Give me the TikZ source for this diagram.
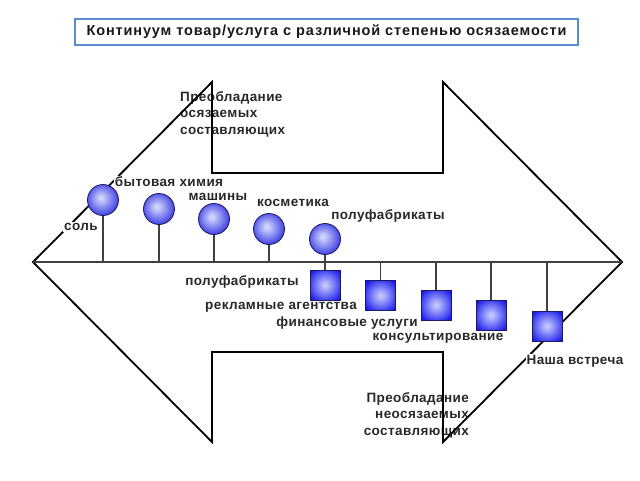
\documentclass[tikz,border=0pt]{standalone}
\usepackage{fontspec}
\setmainfont{Liberation Sans}
\newfontfamily\lblfont[LetterSpace=3]{Liberation Sans}
\newfontfamily\ttlfont[LetterSpace=6]{Liberation Sans}
\definecolor{txt}{RGB}{40,40,40}
\definecolor{ballin}{RGB}{205,210,255}
\definecolor{ballout}{RGB}{45,45,220}
\definecolor{sqin}{RGB}{195,200,255}
\definecolor{sqout}{RGB}{25,25,235}
\definecolor{edgeblue}{RGB}{25,25,100}
\definecolor{titleblue}{RGB}{90,140,210}
\pgfdeclareradialshading{ballshade}{\pgfpoint{-4bp}{4bp}}{color(0bp)=(ballin); color(3bp)=(ballin); color(30bp)=(ballout); color(50bp)=(ballout)}
\pgfdeclareradialshading{sqshade}{\pgfpoint{0bp}{0bp}}{color(0bp)=(sqin); color(2bp)=(sqin); color(32bp)=(sqout); color(50bp)=(sqout)}
\begin{document}
\begin{tikzpicture}[x=1pt,y=-1pt,
  lbl/.style={font=\lblfont\bfseries\fontsize{13.5}{16}\selectfont, text=txt, inner sep=1pt, fill=white},
  big/.style={font=\lblfont\bfseries\fontsize{13.5}{16.5}\selectfont, text=txt, inner sep=0pt},
  ball/.style={circle, minimum size=31pt, inner sep=0pt, draw=edgeblue, line width=0.8pt, shading=ballshade},
  sq/.style={rectangle, minimum size=30pt, inner sep=0pt, draw=edgeblue, line width=0.8pt, shading=sqshade},
  stem/.style={draw=black!75, line width=1.5pt},
  axis/.style={draw=black!75, line width=1.8pt},
  outline/.style={draw=black, line width=1.8pt, line join=miter}]
\useasboundingbox (0,0) rectangle (640,480);
% title
\node[draw=titleblue, line width=1.2pt, minimum width=503pt, minimum height=26pt, inner sep=0pt,
  font=\ttlfont\bfseries\fontsize{14.5}{16}\selectfont, text=black!90] (title) at (326.5,32) {Континуум товар/услуга с различной степенью осязаемости};
% big texts
\node[big, anchor=north west, align=left] (tang) at (180,91) {Преобладание\\осязаемых\\составляющих};
\node[big, anchor=north east, align=right] (intang) at (469,392) {Преобладание\\неосязаемых\\составляющих};
% outline
\coordinate (L) at (33,262);
\coordinate (R) at (622,262);
\coordinate (ul1) at (212,82);
\coordinate (ul2) at (212,173);
\coordinate (ur2) at (443,173);
\coordinate (ur1) at (443,82);
\coordinate (lr1) at (443,442);
\coordinate (lr2) at (443,352);
\coordinate (ll2) at (212,352);
\coordinate (ll1) at (212,442);
\draw[outline] (L) -- (ul1) -- (ul2) -- (ur2) -- (ur1) -- (R) -- (lr1) -- (lr2) -- (ll2) -- (ll1) -- cycle;
\draw[axis] (L) -- (R);
% labels
\node[lbl] (l1) at (81,227) {соль};
\node[lbl] (l2) at (169,182) {бытовая химия};
\node[lbl] (l3) at (218,197) {машины};
\node[lbl] (l4) at (293,203) {косметика};
\node[lbl] (l5) at (388,216) {полуфабрикаты};
\node[lbl] (m1) at (242,282) {полуфабрикаты};
\node[lbl] (m2) at (281,307) {рекламные агентства};
\node[lbl] (m3) at (347,323) {финансовые услуги};
\node[lbl] (m4) at (438,338) {консультирование};
\node[lbl] (m5) at (575,361) {Наша встреча};
% shape positions
\coordinate (pc1) at (103,200);
\coordinate (pc2) at (159,209);
\coordinate (pc3) at (214,219);
\coordinate (pc4) at (269,229);
\coordinate (pc5) at (325,239);
\coordinate (ps1) at (325,285);
\coordinate (ps2) at (380.5,295.5);
\coordinate (ps3) at (436,305);
\coordinate (ps4) at (491,315);
\coordinate (ps5) at (547,326);
% stems
\foreach \i in {1,...,4} {\draw[stem] (pc\i) -- (pc\i |- L);}
\draw[stem] (pc5) -- (ps1);
\foreach \i in {2,...,5} {\draw[stem] (ps\i |- L) -- (ps\i);}
% shapes
\foreach \i in {1,...,5} {\node[ball] (c\i) at (pc\i) {};}
\foreach \i in {1,...,5} {\node[sq] (s\i) at (ps\i) {};}
\end{tikzpicture}
\end{document}
